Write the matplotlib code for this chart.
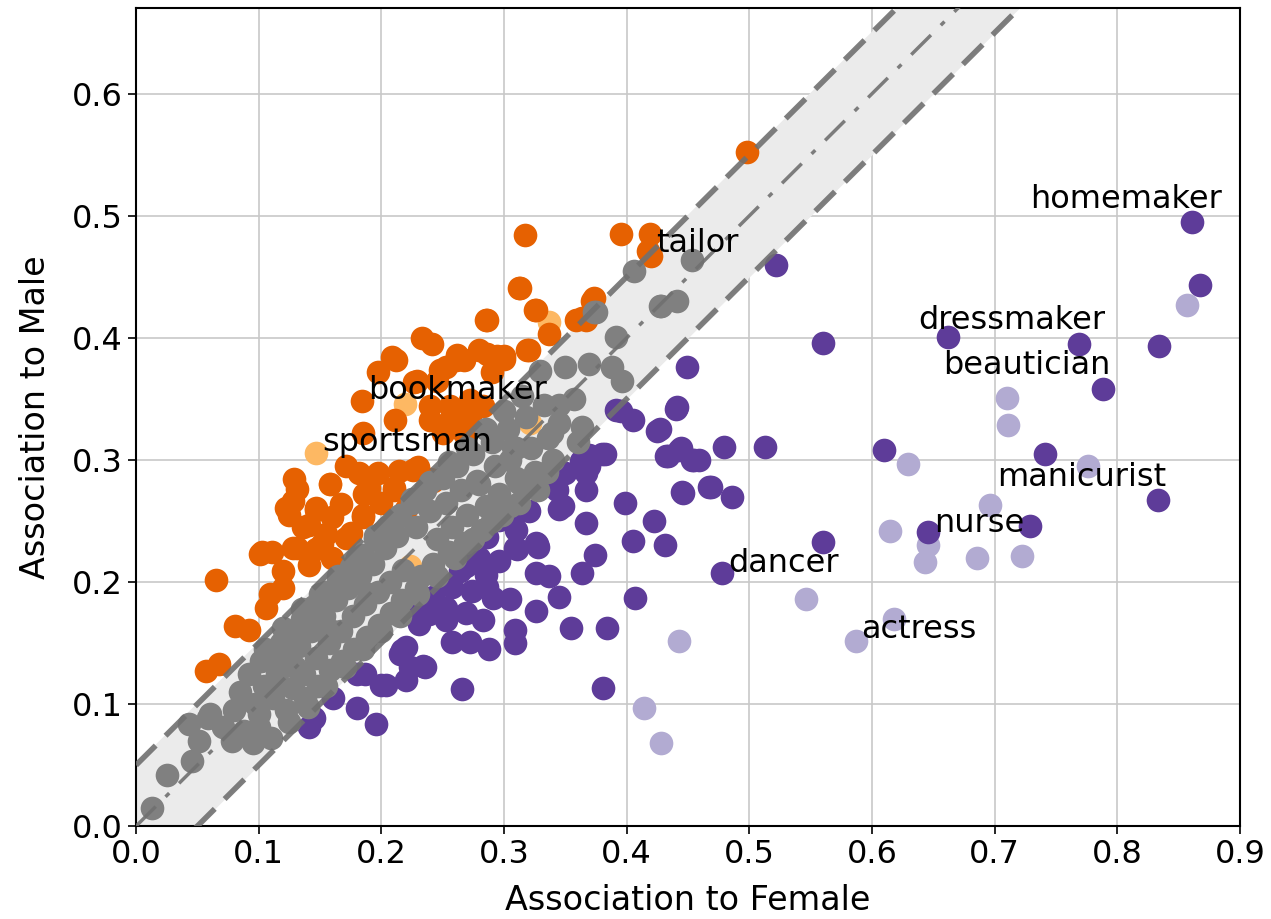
import matplotlib
matplotlib.use("Agg")
import matplotlib.pyplot as plt

# colours (PuOr-like)
dark_orange = "#e66101"
light_orange = "#fdb863"
dark_purple = "#5e3c99"
light_purple = "#b2abd2"
grey = "#808080"

# male-leaning words (strong)
orange_x = [0.498, 0.317, 0.395, 0.419, 0.417, 0.420, 0.372, 0.364, 0.373, 0.367,
            0.312, 0.325, 0.337, 0.285, 0.233, 0.241, 0.209, 0.262, 0.280, 0.300,
            0.319, 0.212, 0.261, 0.248, 0.197, 0.227, 0.290, 0.184, 0.211, 0.240,
            0.256, 0.272, 0.283, 0.240, 0.256, 0.272, 0.250, 0.267, 0.185, 0.226,
            0.240, 0.129, 0.131, 0.158, 0.286, 0.300, 0.267, 0.253, 0.245, 0.229,
            0.171, 0.182, 0.197, 0.214, 0.230, 0.122, 0.210, 0.186, 0.147, 0.167,
            0.136, 0.155, 0.185, 0.128, 0.103, 0.147, 0.128, 0.125, 0.147, 0.160,
            0.141, 0.190, 0.210, 0.185, 0.171, 0.152, 0.131, 0.111, 0.101, 0.065,
            0.120, 0.141, 0.160, 0.109, 0.120, 0.081, 0.092, 0.057, 0.068, 0.106,
            0.229, 0.242, 0.313, 0.326, 0.359, 0.286, 0.294, 0.320, 0.200, 0.220,
            0.175, 0.200]
orange_y = [0.552, 0.484, 0.485, 0.485, 0.471, 0.467, 0.430, 0.416, 0.433, 0.415,
            0.441, 0.423, 0.403, 0.415, 0.400, 0.395, 0.384, 0.386, 0.390, 0.385,
            0.390, 0.382, 0.382, 0.374, 0.372, 0.364, 0.372, 0.348, 0.333, 0.344,
            0.344, 0.349, 0.344, 0.333, 0.333, 0.336, 0.322, 0.322, 0.322, 0.292,
            0.284, 0.284, 0.276, 0.280, 0.387, 0.383, 0.382, 0.376, 0.365, 0.365,
            0.295, 0.289, 0.289, 0.291, 0.294, 0.261, 0.275, 0.272, 0.261, 0.264,
            0.245, 0.239, 0.253, 0.228, 0.225, 0.227, 0.266, 0.255, 0.259, 0.253,
            0.247, 0.277, 0.277, 0.255, 0.236, 0.231, 0.228, 0.225, 0.223, 0.202,
            0.209, 0.214, 0.220, 0.190, 0.195, 0.164, 0.161, 0.127, 0.133, 0.179,
            0.293, 0.283, 0.441, 0.423, 0.415, 0.415, 0.385, 0.390, 0.265, 0.260,
            0.240, 0.240]

# male-leaning words (weak)
lorange_x = [0.337, 0.219, 0.147, 0.321, 0.158, 0.223]
lorange_y = [0.413, 0.346, 0.306, 0.330, 0.280, 0.213]

# female-leaning words (strong)
purple_x = [0.861, 0.867, 0.834, 0.769, 0.662, 0.788, 0.522, 0.560, 0.741, 0.833,
            0.610, 0.513, 0.479, 0.459, 0.469, 0.486, 0.560, 0.646, 0.729, 0.478,
            0.449, 0.441, 0.405, 0.395, 0.391, 0.427, 0.434, 0.444, 0.455, 0.382,
            0.369, 0.369, 0.446, 0.399, 0.422, 0.405, 0.431, 0.367, 0.374, 0.364,
            0.345, 0.367, 0.367, 0.350, 0.363, 0.343, 0.335, 0.348, 0.310, 0.326,
            0.337, 0.345, 0.326, 0.355, 0.384, 0.407, 0.381, 0.266, 0.309, 0.309,
            0.305, 0.326, 0.310, 0.296, 0.286, 0.269, 0.286, 0.258, 0.242, 0.226,
            0.269, 0.283, 0.253, 0.288, 0.272, 0.258, 0.220, 0.234, 0.220, 0.327,
            0.309, 0.296, 0.285, 0.264, 0.274, 0.291, 0.253, 0.204, 0.180, 0.161,
            0.180, 0.196, 0.145, 0.141, 0.187, 0.200, 0.299, 0.320, 0.280, 0.253,
            0.239, 0.236, 0.215, 0.223, 0.311, 0.328, 0.231, 0.217, 0.380, 0.342,
            0.467, 0.445, 0.432, 0.443, 0.453, 0.425, 0.440]
purple_y = [0.495, 0.443, 0.393, 0.395, 0.401, 0.358, 0.460, 0.396, 0.305, 0.267,
            0.308, 0.311, 0.311, 0.300, 0.278, 0.270, 0.233, 0.241, 0.246, 0.207,
            0.376, 0.343, 0.333, 0.340, 0.341, 0.325, 0.303, 0.310, 0.300, 0.305,
            0.304, 0.295, 0.273, 0.265, 0.250, 0.234, 0.230, 0.248, 0.222, 0.207,
            0.260, 0.275, 0.289, 0.289, 0.299, 0.275, 0.284, 0.262, 0.257, 0.207,
            0.205, 0.188, 0.176, 0.162, 0.162, 0.187, 0.113, 0.112, 0.161, 0.150,
            0.186, 0.232, 0.243, 0.251, 0.237, 0.213, 0.196, 0.196, 0.188, 0.175,
            0.175, 0.169, 0.169, 0.145, 0.151, 0.151, 0.120, 0.131, 0.147, 0.231,
            0.228, 0.217, 0.206, 0.209, 0.193, 0.187, 0.179, 0.116, 0.125, 0.105,
            0.097, 0.084, 0.089, 0.081, 0.125, 0.116, 0.261, 0.258, 0.220, 0.198,
            0.174, 0.130, 0.141, 0.130, 0.227, 0.229, 0.166, 0.144, 0.305, 0.278,
            0.278, 0.274, 0.303, 0.308, 0.300, 0.324, 0.342]

# female-leaning words (weak)
lpurple_x = [0.857, 0.710, 0.711, 0.629, 0.776, 0.696, 0.615, 0.646, 0.643, 0.686,
             0.722, 0.546, 0.618, 0.587, 0.443, 0.414, 0.428]
lpurple_y = [0.427, 0.351, 0.329, 0.297, 0.295, 0.263, 0.242, 0.230, 0.216, 0.220,
             0.221, 0.186, 0.170, 0.152, 0.152, 0.097, 0.068]

# neutral words
grey_x = [0.013, 0.025, 0.046, 0.051, 0.043, 0.059, 0.071, 0.078, 0.095, 0.100, 0.060,
          0.406, 0.453, 0.427, 0.441, 0.428, 0.391, 0.375, 0.373, 0.329, 0.350, 0.369,
          0.388, 0.396, 0.357, 0.339, 0.364, 0.307, 0.312,
          0.080, 0.085, 0.088, 0.092, 0.097, 0.102, 0.104, 0.100,
          0.110, 0.112, 0.115, 0.118, 0.122, 0.125, 0.127, 0.128,
          0.133, 0.135, 0.137, 0.138, 0.143, 0.145, 0.147, 0.148,
          0.153, 0.155, 0.157, 0.158, 0.163, 0.165, 0.167, 0.168,
          0.173, 0.175, 0.177, 0.178, 0.183, 0.185, 0.187, 0.188,
          0.193, 0.195, 0.197, 0.198, 0.203, 0.205, 0.207, 0.208,
          0.213, 0.215, 0.217, 0.218, 0.225, 0.228, 0.228, 0.232,
          0.236, 0.240, 0.242, 0.245, 0.250, 0.253, 0.255, 0.258,
          0.262, 0.265, 0.268, 0.270, 0.275, 0.278, 0.282, 0.285,
          0.290, 0.293, 0.296, 0.298, 0.303, 0.305, 0.310, 0.312,
          0.318, 0.322, 0.325, 0.328, 0.333, 0.336, 0.340, 0.345,
          # upper edge of the band
          0.105, 0.120, 0.135, 0.150, 0.165, 0.180, 0.195, 0.210,
          0.225, 0.240, 0.255, 0.270, 0.285, 0.300, 0.315,
          # lower edge of the band
          0.110, 0.125, 0.140, 0.155, 0.170, 0.185, 0.200, 0.215,
          0.230, 0.245, 0.260, 0.275, 0.290, 0.305, 0.320, 0.335,
          # along the diagonal
          0.115, 0.130, 0.160, 0.190, 0.280, 0.310, 0.345, 0.360]
grey_y = [0.015, 0.042, 0.053, 0.070, 0.084, 0.089, 0.081, 0.070, 0.068, 0.081, 0.092,
          0.455, 0.464, 0.426, 0.430, 0.426, 0.401, 0.421, 0.421, 0.373, 0.376, 0.379,
          0.376, 0.365, 0.350, 0.322, 0.327, 0.311, 0.281,
          0.095, 0.110, 0.078, 0.125, 0.100, 0.135, 0.115, 0.092,
          0.140, 0.105, 0.125, 0.150, 0.095, 0.135, 0.160, 0.113,
          0.148, 0.170, 0.125, 0.105, 0.160, 0.180, 0.138, 0.115,
          0.172, 0.192, 0.150, 0.128, 0.185, 0.200, 0.160, 0.135,
          0.195, 0.212, 0.172, 0.145, 0.205, 0.222, 0.182, 0.155,
          0.215, 0.235, 0.192, 0.165, 0.228, 0.245, 0.200, 0.175,
          0.238, 0.255, 0.185, 0.210, 0.265, 0.245, 0.195, 0.205,
          0.275, 0.258, 0.215, 0.235, 0.285, 0.265, 0.225, 0.245,
          0.295, 0.275, 0.232, 0.255, 0.305, 0.283, 0.243, 0.262,
          0.315, 0.295, 0.272, 0.255, 0.325, 0.300, 0.285, 0.265,
          0.335, 0.310, 0.290, 0.275, 0.345, 0.318, 0.300, 0.330,
          0.145, 0.162, 0.178, 0.190, 0.205, 0.220, 0.238, 0.250,
          0.268, 0.282, 0.298, 0.310, 0.325, 0.340, 0.352,
          0.072, 0.085, 0.098, 0.115, 0.130, 0.145, 0.160, 0.172,
          0.190, 0.205, 0.220, 0.235, 0.250, 0.262, 0.280, 0.290,
          0.115, 0.130, 0.160, 0.190, 0.280, 0.310, 0.345, 0.315]

# annotated words: text, left x, baseline y
words = ["homemaker", "tailor", "dressmaker", "beautician", "manicurist",
         "nurse", "dancer", "actress", "bookmaker", "sportsman"]
word_x = [0.729, 0.424, 0.638, 0.658, 0.702, 0.651, 0.483, 0.591, 0.189, 0.152]
word_y = [0.506, 0.470, 0.407, 0.370, 0.279, 0.241, 0.208, 0.154, 0.350, 0.307]

band = 0.05
line_x = [0, 1]

fig = plt.figure(figsize=(12.71, 9.19), dpi=100)
ax = fig.add_axes([0.107, 0.101, 0.8686, 0.890])

ax.grid(True, color="#c8c8c8", lw=1.2, zorder=0)
ax.set_axisbelow(True)

ax.fill_between(line_x, [v - band for v in line_x], [v + band for v in line_x],
                color="#ebebeb", zorder=1)

s = 290
ax.scatter(lorange_x, lorange_y, s=s, color=light_orange, lw=0, zorder=2)
ax.scatter(lpurple_x, lpurple_y, s=s, color=light_purple, lw=0, zorder=2)
ax.scatter(orange_x, orange_y, s=s, color=dark_orange, lw=0, zorder=3)
ax.scatter(purple_x, purple_y, s=s, color=dark_purple, lw=0, zorder=3)
ax.scatter(grey_x, grey_y, s=s, color=grey, lw=0, zorder=4)

ax.plot(line_x, [v + band for v in line_x], color="#707070", lw=4,
        ls=(0, (5, 2.5)), alpha=0.9, zorder=5)
ax.plot(line_x, [v - band for v in line_x], color="#707070", lw=4,
        ls=(0, (5, 2.5)), alpha=0.9, zorder=5)
ax.plot(line_x, line_x, color="#707070", lw=2.5, ls=(0, (8, 4, 1.5, 4)),
        alpha=0.9, zorder=5)

for t, x, y in zip(words, word_x, word_y):
    ax.text(x, y, t, fontsize=23, ha="left", va="baseline", zorder=6)

ax.set_xlim(0, 0.9)
ax.set_ylim(0, 0.67)
ax.set_xticks([0.0, 0.1, 0.2, 0.3, 0.4, 0.5, 0.6, 0.7, 0.8, 0.9])
ax.set_yticks([0.0, 0.1, 0.2, 0.3, 0.4, 0.5, 0.6])
ax.tick_params(labelsize=23, length=6, width=1.2)
for sp in ax.spines.values():
    sp.set_linewidth(1.5)

ax.set_xlabel("Association to Female", fontsize=24, labelpad=10)
ax.set_ylabel("Association to Male", fontsize=24, labelpad=14)

fig.savefig("out.png", dpi=100)
